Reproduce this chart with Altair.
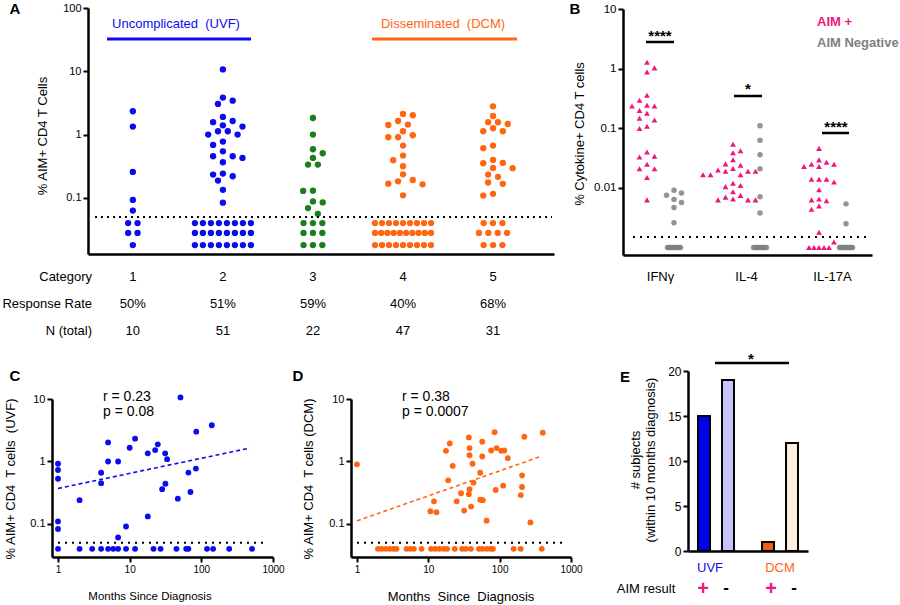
import math
import pandas as pd
import altair as alt

FONT = "Liberation Sans"
BLUE = "#0b0bf0"
GREEN = "#1b7d1b"
ORANGE = "#ff6611"
PINK = "#f0167e"
GREY = "#808080"
NB = "\u00a0"

# ---------------- Panel A data ----------------
a_categories = [1, 2, 3, 4, 5]
a_cat1 = [2.34, 1.34, 0.257, 0.093, 0.063, 0.040, 0.040, 0.028, 0.028, 0.018]
a_cat2 = [10.7, 3.84, 3.44, 3.05, 1.9, 1.64, 1.57, 1.40, 1.34, 1.13, 1.13, 1.0, 1.0,
          0.775, 0.687, 0.545, 0.455, 0.455, 0.428, 0.366, 0.242, 0.234, 0.22, 0.188,
          0.134, 0.084] + [0.040] * 8 + [0.028] * 8 + [0.018] * 8
a_cat3 = [1.83, 1.0, 0.587, 0.507, 0.428, 0.336, 0.336, 0.13, 0.129, 0.088, 0.085,
          0.069, 0.056] + [0.040] * 3 + [0.028] * 3 + [0.018] * 3
a_cat4 = [2.12, 2.02, 1.64, 1.44, 1.42, 1.13, 0.976, 0.908, 0.908, 0.67, 0.466, 0.393,
          0.316, 0.236, 0.192, 0.183, 0.168, 0.164, 0.11] + [0.040] * 9 + [0.028] * 10 + [0.018] * 9
a_cat5 = [2.8, 1.97, 1.57, 1.57, 1.47, 1.26, 1.13, 1.13, 0.67, 0.61, 0.398, 0.357, 0.353,
          0.298, 0.295, 0.234, 0.215, 0.175, 0.167, 0.116, 0.109] + [0.040] * 3 + [0.028] * 4 + [0.018] * 3
a_groups = ["Uncomplicated" + NB + " (UVF)", "Disseminated" + NB + " (DCM)"]
a_response = ["50%", "51%", "59%", "40%", "68%"]
a_ntotal = ["10", "51", "22", "47", "31"]
a_threshold = 0.05

# ---------------- Panel B data ----------------
b_cytokines = ["IFNγ", "IL-4", "IL-17A"]
b_ifng_pos = [1.28, 1.03, 0.88, 0.357, 0.295, 0.243, 0.237, 0.237, 0.198, 0.178, 0.147,
              0.138, 0.108, 0.099, 0.040, 0.034, 0.033, 0.025, 0.021, 0.021, 0.015, 0.0063]
b_ifng_neg = [0.0091, 0.0082, 0.0075, 0.0064, 0.0057, 0.0047, 0.0026] + [0.001] * 10
b_il4_pos = [0.054, 0.042, 0.039, 0.0296, 0.0253, 0.024, 0.0211, 0.020, 0.019, 0.019, 0.019,
             0.0166, 0.0166, 0.0166, 0.012, 0.011, 0.0105, 0.0086, 0.0075, 0.007, 0.0065,
             0.0063, 0.0063, 0.0063]
b_il4_neg = [0.11, 0.063, 0.036, 0.021, 0.0071, 0.0038] + [0.001] * 10
b_il17_pos = [0.046, 0.0295, 0.027, 0.025, 0.025, 0.0228, 0.0228, 0.014, 0.014, 0.014, 0.0126,
              0.0093, 0.0065, 0.0063, 0.0061, 0.005, 0.0044, 0.0018, 0.00124] + [0.001] * 5
b_il17_neg = [0.0054, 0.0025] + [0.001] * 12
b_threshold = 0.0015
b_legend = ["AIM +", "AIM Negative"]
b_signif = ["****", "*", "****"]

# ---------------- Panel C data (UVF) ----------------
c_months = [1, 1, 1, 1, 1, 2, 4, 4, 5, 5, 6.9, 6.9, 8.9, 10, 11.9, 17.9, 17.9, 22.7, 24.7, 31.3,
            33.3, 31.5, 28.4, 51.2, 47, 66, 70.6, 84, 85, 140]
c_aim = [0.92, 0.73, 0.53, 0.11, 0.083, 0.24, 0.66, 0.45, 2.02, 1.0, 1.0, 0.061, 0.091, 1.66,
         2.32, 1.35, 0.132, 1.52, 1.88, 1.35, 1.09, 0.44, 0.36, 10.6, 0.254, 0.665, 0.325,
         0.77, 3.0, 3.8]
c_und_months = [1, 2, 3, 4, 5, 5.9, 6.9, 8.9, 11.9, 21.5, 27, 45, 61.5, 66, 120, 146, 245, 510]
c_und_value = 0.04
c_fit_x = [1, 476]
c_fit_y = [0.37, 1.64]
c_stats = ["r = 0.23", "p = 0.08"]

# ---------------- Panel D data (DCM) ----------------
d_months = [1, 10.7, 12, 13, 17.7, 20, 19, 22, 25, 28.8, 31.8, 37, 37.8, 37.8, 37.8, 37, 41.7,
            43, 39.8, 53.4, 53.4, 58, 57, 57, 65.6, 76, 85, 90.7, 88, 105, 116, 112, 130, 222,
            206, 206, 198, 270, 403]
d_aim = [0.9, 0.16, 0.23, 0.154, 1.48, 1.94, 0.5, 0.85, 0.23, 0.31, 0.164, 2.43, 1.64, 1.26,
         0.36, 0.3, 0.92, 0.46, 0.19, 0.66, 0.245, 0.24, 2.07, 1.2, 0.113, 1.5, 2.95, 1.64,
         0.35, 1.48, 1.5, 0.41, 1.13, 2.49, 0.6, 0.39, 0.29, 0.106, 2.88]
d_und_months = [1.97, 2.22, 2.53, 2.88, 3.25, 3.58, 4.95, 5.58, 6.28, 8.05, 10.9, 12.5, 14.3,
                16.4, 18.3, 23.5, 29.8, 33.6, 39.5, 51.3, 57.5, 66, 74.5, 80.5, 157, 197, 389]
d_und_value = 0.04
d_fit_x = [1, 374]
d_fit_y = [0.112, 1.2]
d_stats = ["r = 0.38", "p = 0.0007"]

# ---------------- Panel E data ----------------
e_groups = ["UVF", "UVF", "DCM", "DCM"]
e_aim = ["+", "-", "+", "-"]
e_counts = [15, 19, 1, 12]

# ---------------- helpers ----------------
def lin(d, r):
    return alt.Scale(type="linear", domain=d, range=r, nice=False, zero=False)


def logs(d, r):
    return alt.Scale(type="log", domain=d, range=r, nice=False)


def px_log(v, d, r):
    return r[0] + (math.log10(v) - math.log10(d[0])) / (math.log10(d[1]) - math.log10(d[0])) * (r[1] - r[0])


def swarm(vals, to_px, step, dmin, is_row, row_spacing):
    n = len(vals)
    offs = [None] * n
    placed = []
    groups = {}
    for i, v in enumerate(vals):
        if is_row(v):
            groups.setdefault(v, []).append(i)
    for v, idx in groups.items():
        k = len(idx)
        sp = row_spacing(k)
        for j, i in enumerate(idx):
            dx = (j - (k - 1) / 2) * sp
            offs[i] = dx
            placed.append((dx, to_px(v)))
    rest = sorted([i for i in range(n) if offs[i] is None], key=lambda i: -vals[i])
    flip = 1
    for i in rest:
        py = to_px(vals[i])
        k = 0
        found = None
        while found is None:
            cands = [0.0] if k == 0 else [flip * k * step, -flip * k * step]
            for dx in cands:
                if all((dx - qx) ** 2 + (py - qy) ** 2 >= dmin ** 2 for qx, qy in placed):
                    found = dx
                    break
            k += 1
        if found != 0:
            flip = -flip
        offs[i] = found
        placed.append((found, py))
    return offs


def label(text, x, y, size=13, color="black", weight="normal", align="center", angle=0,
          baseline="middle"):
    return alt.Chart(pd.DataFrame({"t": [text]})).mark_text(
        font=FONT, fontSize=size, color=color, fontWeight=weight, align=align,
        baseline=baseline, angle=angle
    ).encode(x=alt.value(x), y=alt.value(y), text="t:N")


def hline(x1, x2, y, width=2.5, color="black", dash=None):
    kw = dict(color=color, strokeWidth=width)
    if dash:
        kw["strokeDash"] = dash
    return alt.Chart(pd.DataFrame({"a": [0]})).mark_rule(**kw).encode(
        x=alt.value(x1), x2=alt.value(x2), y=alt.value(y))


layers = []

# ================= Panel A =================
A_XD, A_XR = [0.502, 5.677], [88, 554]
A_YD, A_YR = [0.013, 100], [254, 8]
A_PPU = (A_XR[1] - A_XR[0]) / (A_XD[1] - A_XD[0])
xA, yA = lin(A_XD, A_XR), logs(A_YD, A_YR)
a_colors = [BLUE, BLUE, GREEN, ORANGE, ORANGE]
rowsA = []
for cat, vals, col in zip(a_categories, [a_cat1, a_cat2, a_cat3, a_cat4, a_cat5], a_colors):
    offs = swarm(vals, lambda v: px_log(v, A_YD, A_YR), 4.9, 7.6,
                 lambda v: v < a_threshold,
                 lambda k: min(9.4, 56 / (k - 1)) if k > 1 else 0)
    for v, o in zip(vals, offs):
        rowsA.append({"x": cat + o / A_PPU, "y": v, "c": col})
dfA = pd.DataFrame(rowsA)
layers.append(
    alt.Chart(dfA).mark_circle(size=40, opacity=1).encode(
        x=alt.X("x:Q", scale=xA, axis=alt.Axis(orient="bottom", offset=-(605 - 254), ticks=False,
                                               labels=False, title=None)),
        y=alt.Y("y:Q", scale=yA, axis=alt.Axis(orient="left", offset=-88, values=[0.1, 1, 10, 100],
                                               format="~g", title=None, labelFontSize=11)),
        color=alt.Color("c:N", scale=None),
    )
)
layers.append(
    alt.Chart(pd.DataFrame({"y": [a_threshold]})).mark_rule(
        color="black", strokeWidth=2, strokeDash=[2, 4]).encode(
        y=alt.Y("y:Q", scale=yA, axis=None), x=alt.value(95), x2=alt.value(552))
)
# group headers
layers += [
    label(a_groups[0], 176, 24, 13, BLUE),
    hline(107, 251, 39, 3, BLUE),
    label(a_groups[1], 443, 24, 13, ORANGE),
    hline(372, 517, 39, 3, ORANGE),
    label("% AIM+ CD4 T Cells", 43, 136, 13, angle=270),
    label("A", 15, 9, 15, weight="bold"),
]
# table under panel A
for ry, title, vals in [(277, "Category", [str(c) for c in a_categories]),
                        (304, "Response Rate", a_response),
                        (331, "N (total)", a_ntotal)]:
    layers.append(label(title, 92, ry, 13, align="right"))
    layers.append(
        alt.Chart(pd.DataFrame({"x": a_categories, "t": vals})).mark_text(
            font=FONT, fontSize=13, color="black", baseline="middle").encode(
            x=alt.X("x:Q", scale=xA, axis=None), y=alt.value(ry), text="t:N")
    )

# ================= Panel B =================
B_XD, B_XR = [-0.436, 2.459], [623, 872]
B_YD, B_YR = [0.00075, 10], [255, 9]
B_PPU = (B_XR[1] - B_XR[0]) / (B_XD[1] - B_XD[0])
xB, yB = lin(B_XD, B_XR), logs(B_YD, B_YR)
pos_rows, neg_rows = [], []
for i, (pv, nv) in enumerate([(b_ifng_pos, b_ifng_neg), (b_il4_pos, b_il4_neg),
                              (b_il17_pos, b_il17_neg)]):
    po = swarm(pv, lambda v: px_log(v, B_YD, B_YR), 7.5, 6.6, lambda v: v <= 0.001,
               lambda k: 5.0)
    for v, o in zip(pv, po):
        pos_rows.append({"x": i - 0.157 + o / B_PPU, "y": v})
    no = swarm(nv, lambda v: px_log(v, B_YD, B_YR), 7.5, 6.6, lambda v: v <= 0.001,
               lambda k: 13.0 / (k - 1) if k > 1 else 0)
    for v, o in zip(nv, no):
        neg_rows.append({"x": i + 0.157 + o / B_PPU, "y": v})
layers.append(
    alt.Chart(pd.DataFrame(pos_rows)).mark_point(
        shape="triangle-up", filled=True, size=34, color=PINK, opacity=1).encode(
        x=alt.X("x:Q", scale=xB, axis=alt.Axis(orient="bottom", offset=-(605 - 255), ticks=False,
                                               labels=False, title=None)),
        y=alt.Y("y:Q", scale=yB, axis=alt.Axis(orient="left", offset=-623,
                                               values=[0.01, 0.1, 1, 10], format="~g",
                                               title=None, labelFontSize=11.5)),
    )
)
layers.append(
    alt.Chart(pd.DataFrame(neg_rows)).mark_circle(size=30, color=GREY, opacity=0.85).encode(
        x=alt.X("x:Q", scale=xB, axis=None), y=alt.Y("y:Q", scale=yB, axis=None))
)
layers.append(
    alt.Chart(pd.DataFrame({"y": [b_threshold]})).mark_rule(
        color="black", strokeWidth=2, strokeDash=[2, 5]).encode(
        y=alt.Y("y:Q", scale=yB, axis=None), x=alt.value(633), x2=alt.value(868))
)
layers.append(
    alt.Chart(pd.DataFrame({"x": [0, 1, 2], "t": b_cytokines})).mark_text(
        font=FONT, fontSize=13, color="black", baseline="middle").encode(
        x=alt.X("x:Q", scale=xB, axis=None), y=alt.value(277), text="t:N")
)
layers += [
    label("% Cytokine+ CD4 T cells", 580, 134, 13, angle=270),
    label("B", 575, 9, 15, weight="bold"),
    label(b_legend[0], 817, 22, 13, PINK, "bold", align="left"),
    label(b_legend[1], 817, 43, 13, GREY, "bold", align="left"),
    label(b_signif[0], 660, 41, 15, weight="bold", baseline="alphabetic"),
    hline(646, 674, 42, 2.5),
    label(b_signif[1], 748, 94, 15, weight="bold", baseline="alphabetic"),
    hline(734, 762, 96, 2.5),
    label(b_signif[2], 836, 132, 15, weight="bold", baseline="alphabetic"),
    hline(822, 849, 133, 2.5),
]

# ================= Panel C / D =================
def scatter_panel(x0, xr, months, aim, und_months, und_val, fit_x, fit_y, color, stats,
                  ytitle, xtitle, xtitle_size, xtitle_x, letter, letter_x, ytitle_x):
    out = []
    xd = [0.825, 1000]
    yd = [0.0296, 10]
    xs = logs(xd, xr)
    ys = logs(yd, [557, 399])
    out.append(
        alt.Chart(pd.DataFrame({"x": months + und_months,
                                "y": aim + [und_val] * len(und_months)})).mark_circle(
            size=34, color=color, opacity=1).encode(
            x=alt.X("x:Q", scale=xs, axis=alt.Axis(orient="bottom", offset=-(605 - 557),
                                                   values=[1, 10, 100, 1000], format="~g",
                                                   title=None, labelFontSize=10,
                                                   labelFlush=False)),
            y=alt.Y("y:Q", scale=ys, axis=alt.Axis(orient="left", offset=-x0,
                                                   values=[0.1, 1, 10], format="~g",
                                                   title=None, labelFontSize=11)),
        )
    )
    out.append(
        alt.Chart(pd.DataFrame({"x": fit_x, "y": fit_y})).mark_line(
            color=color, strokeWidth=1.6, strokeDash=[4, 3]).encode(
            x=alt.X("x:Q", scale=xs, axis=None), y=alt.Y("y:Q", scale=ys, axis=None))
    )
    out.append(
        alt.Chart(pd.DataFrame({"y": [0.05]})).mark_rule(
            color="black", strokeWidth=2, strokeDash=[2, 5]).encode(
            y=alt.Y("y:Q", scale=ys, axis=None), x=alt.value(xr[0] + 6),
            x2=alt.value(xr[1] - 6))
    )
    out += [
        label(stats[0], x0 + 51, 397, 14, align="left"),
        label(stats[1], x0 + 51, 412, 14, align="left"),
        label(ytitle, ytitle_x, 479, 13, angle=270),
        label(xtitle, xtitle_x, 597, xtitle_size),
        label(letter, letter_x, 376, 15, weight="bold"),
    ]
    return out


layers += scatter_panel(52, [52, 273], c_months, c_aim, c_und_months, c_und_value, c_fit_x,
                        c_fit_y, BLUE, c_stats, "% AIM+ CD4" + NB + " T cells" + NB + " (UVF)",
                        "Months Since Diagnosis", 11.5, 150, "C", 15, 11)
layers += scatter_panel(351, [351, 571], d_months, d_aim, d_und_months, d_und_value, d_fit_x,
                        d_fit_y, ORANGE, d_stats, "% AIM+ CD4" + NB + " T cells (DCM)",
                        "Months" + NB + " Since" + NB + " Diagnosis", 13, 461, "D", 298, 309)

# ================= Panel E =================
E_XD, E_XR = [-0.667, 4.333], [688, 808]
xE, yE = lin(E_XD, E_XR), lin([0, 20], [551, 371])
e_fill = ["#0000f5", "#c4c4fa", "#e9630f", "#fcefe0"]
gidx = {"UVF": 0, "DCM": 1}
aidx = {"+": 0, "-": 1}
e_pos = [gidx[g] * 2.667 + aidx[a] for g, a in zip(e_groups, e_aim)]
dfE = pd.DataFrame({"x0": [p - 0.25 for p in e_pos], "x1": [p + 0.25 for p in e_pos],
                    "n": e_counts, "z": [0] * 4, "c": e_fill})
layers.append(
    alt.Chart(dfE).mark_rect(stroke="black", strokeWidth=2).encode(
        x=alt.X("x0:Q", scale=xE, axis=alt.Axis(orient="bottom", offset=-(605 - 551), ticks=False,
                                                labels=False, title=None)),
        x2="x1:Q",
        y=alt.Y("n:Q", scale=yE, axis=alt.Axis(orient="left", offset=-688,
                                               values=[0, 5, 10, 15, 20], title=None,
                                               labelFontSize=12)),
        y2="z:Q",
        color=alt.Color("c:N", scale=None),
    )
)
layers += [
    label("# subjects", 636, 460, 13, angle=270),
    label("(within 10 months diagnosis)", 651, 460, 13, angle=270),
    label("E", 625, 377, 15, weight="bold"),
    label("*", 751, 364, 15, weight="bold", baseline="alphabetic"),
    hline(715, 789, 363, 2.5),
    label("UVF", 710, 568, 13, BLUE),
    label("DCM", 780, 568, 13, ORANGE),
    label("AIM result", 646, 589, 13),
    label("+", 703, 589, 20, PINK, "bold"),
    label("-", 726, 588, 17, weight="bold"),
    label("+", 771, 589, 20, PINK, "bold"),
    label("-", 794, 588, 17, weight="bold"),
]

chart = alt.layer(*layers).resolve_scale(
    x="independent", y="independent"
).properties(
    width=900, height=605, autosize=alt.AutoSizeParams(type="none"), padding=0
).configure_view(stroke="transparent").configure_axis(
    domainColor="black", domainWidth=2.5, tickColor="black", tickWidth=2, tickSize=5,
    labelColor="black", labelFont=FONT, grid=False, labelPadding=2, titleFont=FONT
)

chart.save("out.html", embed_options={"renderer": "svg", "actions": False})
